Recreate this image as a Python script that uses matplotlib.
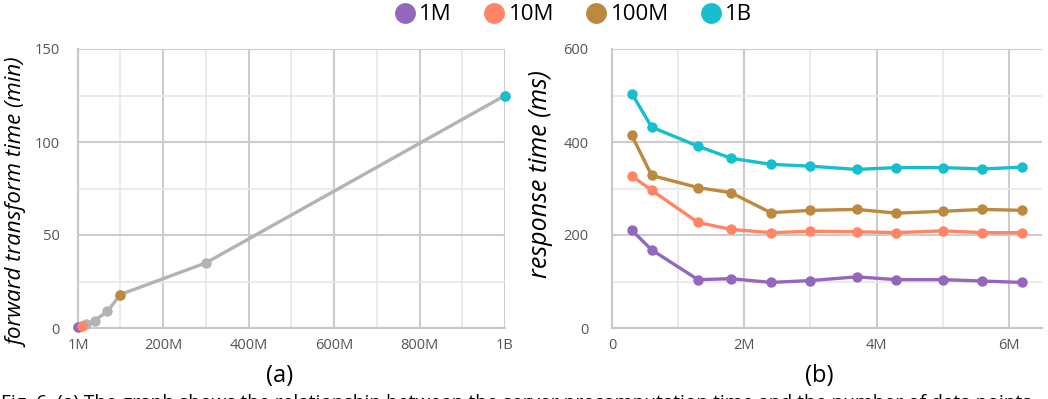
import matplotlib
matplotlib.use("Agg")
import matplotlib.pyplot as plt
from matplotlib.ticker import FixedLocator, FuncFormatter
from matplotlib.lines import Line2D

plt.rcParams['font.family'] = ['Open Sans', 'DejaVu Sans']

# (a) forward transform time vs. number of points
sizes = [1e6, 10e6, 20e6, 40e6, 70e6, 100e6, 300e6, 1e9]
transform_min = [0.3, 1, 2, 4, 9, 18, 35, 125]
highlight = {1e6: '1M', 10e6: '10M', 100e6: '100M', 1e9: '1B'}

# (b) response time vs. points in view
view_points = [0.3e6, 0.6e6, 1.3e6, 1.8e6, 2.4e6, 3.0e6, 3.7e6, 4.3e6, 5.0e6, 5.6e6, 6.2e6]
resp_1m = [210, 168, 104, 106, 98, 102, 110, 104, 104, 101, 98]
resp_10m = [327, 296, 227, 212, 205, 208, 207, 205, 209, 205, 205]
resp_100m = [414, 328, 302, 291, 248, 253, 255, 247, 251, 255, 253]
resp_1b = [504, 432, 391, 365, 352, 348, 341, 345, 345, 342, 346]

labels = ['1M', '10M', '100M', '1B']
colors = {'1M': '#9467bd', '10M': '#ff8566', '100M': '#bd893e', '1B': '#17becf'}
gray = '#b3b3b3'
tick_color = '#555555'
MS = 7.5


def style_axes(ax):
    for s in ['top', 'right']:
        ax.spines[s].set_visible(False)
    for s in ['left', 'bottom']:
        ax.spines[s].set_color('#c8c8c8')
        ax.spines[s].set_linewidth(1.5)
    ax.grid(True, which='major', color='#cccccc', linewidth=1.5, zorder=0)
    ax.grid(True, which='minor', color='#e8e8e8', linewidth=1.2, zorder=0)
    ax.tick_params(which='both', length=0, colors=tick_color, labelsize=10.5)
    ax.set_axisbelow(True)


fig = plt.figure(figsize=(10.48, 3.99), dpi=100)
ax1 = fig.add_axes([78 / 1048, 1 - 328 / 399, 427 / 1048, 279 / 399])
ax2 = fig.add_axes([612 / 1048, 1 - 328 / 399, 430 / 1048, 279 / 399])

# left panel
ax1.plot(sizes, transform_min, color=gray, lw=2.4, marker='o', ms=MS,
         mfc=gray, mec='none', zorder=3, clip_on=False)
for x, y in zip(sizes, transform_min):
    if x in highlight:
        ax1.plot(x, y, 'o', color=colors[highlight[x]], ms=MS, mec='none',
                 zorder=4, clip_on=False)
ax1.set_xlim(1e6, 1e9)
ax1.set_ylim(0, 150)
ax1.xaxis.set_major_locator(FixedLocator([1e6, 200e6, 400e6, 600e6, 800e6, 1e9]))
ax1.xaxis.set_minor_locator(FixedLocator([100e6, 300e6, 500e6, 700e6, 900e6]))
ax1.yaxis.set_major_locator(FixedLocator([0, 50, 100, 150]))
ax1.yaxis.set_minor_locator(FixedLocator([25, 75, 125]))
ax1.xaxis.set_major_formatter(FuncFormatter(
    lambda v, p: '1B' if v >= 1e9 else f'{int(round(v / 1e6))}M'))
style_axes(ax1)
ax1.tick_params(axis='y', pad=13)
ax1.tick_params(axis='x', pad=7)
ax1.set_ylabel('forward transform time (min)', fontsize=16, style='italic')
ax1.yaxis.set_label_coords(-0.115, 0.45)

# right panel
for lab, vals in zip(labels, [resp_1m, resp_10m, resp_100m, resp_1b]):
    ax2.plot(view_points, vals, color=colors[lab], lw=2.4, marker='o', ms=MS,
             mec='none', zorder=3)
ax2.set_xlim(0, 6.5e6)
ax2.set_ylim(0, 600)
ax2.xaxis.set_major_locator(FixedLocator([0, 2e6, 4e6, 6e6]))
ax2.xaxis.set_minor_locator(FixedLocator([1e6, 3e6, 5e6]))
ax2.yaxis.set_major_locator(FixedLocator([0, 200, 400, 600]))
ax2.yaxis.set_minor_locator(FixedLocator([100, 300, 500]))
ax2.xaxis.set_major_formatter(FuncFormatter(
    lambda v, p: '0' if v == 0 else f'{int(round(v / 1e6))}M'))
style_axes(ax2)
ax2.tick_params(axis='y', pad=17)
ax2.tick_params(axis='x', pad=7)
ax2.set_ylabel('response time (ms)', fontsize=18, style='italic')
ax2.yaxis.set_label_coords(-0.137, 0.552)

# legend
handles = [Line2D([], [], ls='none', marker='o', ms=15, color=colors[l], mec='none')
           for l in labels]
fig.legend(handles, labels, loc='center', bbox_to_anchor=(572 / 1048, 1 - 15 / 399),
           ncol=4, frameon=False, fontsize=16, handletextpad=0.05,
           columnspacing=1.3, handlelength=1.2)

# subcaptions
fig.text(280 / 1048, 1 - 376 / 399, '(a)', ha='center', va='center', fontsize=17)
fig.text(819 / 1048, 1 - 376 / 399, '(b)', ha='center', va='center', fontsize=17)
fig.text(0.001, -9 / 399,
         'Fig. 6. (a) The graph shows the relationship between the server '
         'precomputation time and the number of data points',
         ha='left', va='baseline', fontsize=13.8)

fig.savefig('out.png', dpi=100)
